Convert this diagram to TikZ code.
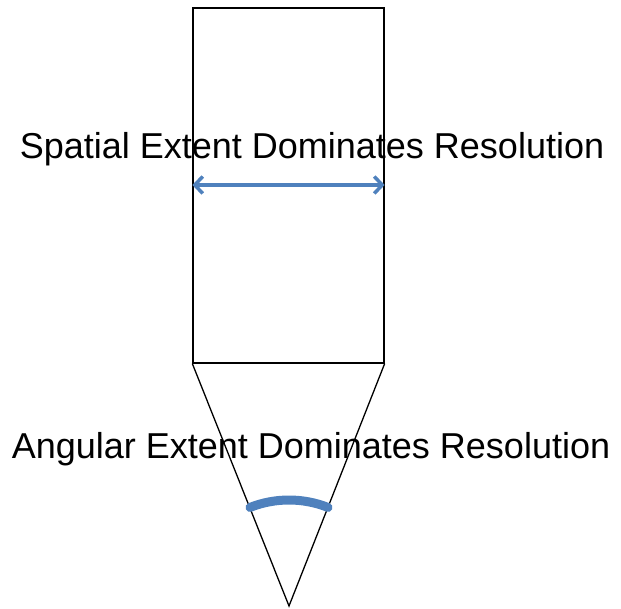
\documentclass[tikz,border=0pt]{standalone}
\usepackage{fontspec}
\setmainfont{Liberation Sans}
\usetikzlibrary{arrows.meta}
\definecolor{extentblue}{RGB}{79,129,189}

\begin{document}
\begin{tikzpicture}[x=1pt,y=1pt]
\tikzstyle{every node}+=[inner sep=0pt]
\tikzstyle{caption}=[font=\fontsize{36}{40}\selectfont, anchor=base]
\tikzstyle{extent}=[extentblue, line width=3.5pt]
\useasboundingbox (0,0) rectangle (621,609);
% tube with the cone below it
\node [draw=black, line width=1.3pt, minimum width=191pt, minimum height=355pt] (tube) at (288.5,423.5) {};
\coordinate (apex) at (289,3);
\draw [line width=1.3pt] (tube.south west) -- (apex) -- (tube.south east);
% texts
\node [caption] (spatial) at (312,450) {Spatial Extent Dominates Resolution};
\node [caption] (angular) at (311,150) {Angular Extent Dominates Resolution};
% width across the tube
\coordinate (level) at (0,424);
\draw [extent, {Straight Barb[length=8pt,width=17pt]}-{Straight Barb[length=8pt,width=17pt]}]
  (tube.west |- level) -- (tube.east |- level);
% angle inside the cone
\draw [extent, line width=9pt, line cap=round] ([shift={(111.6:106)}]apex) arc [start angle=111.6, end angle=68.4, radius=106];
\end{tikzpicture}
\end{document}
